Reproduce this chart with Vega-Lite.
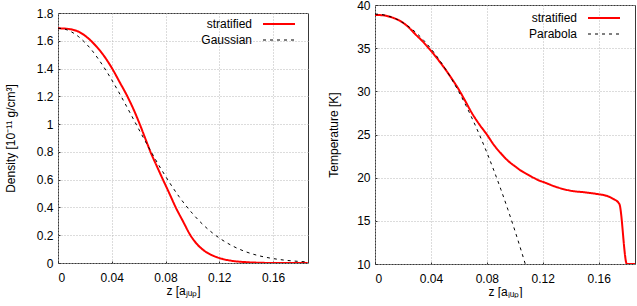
{
  "$schema": "https://vega.github.io/schema/vega-lite/v6.json",
  "padding": {"left": 3, "top": -2, "right": 0, "bottom": 0},
  "background": "white",
  "datasets": {
    "density": [
      {"z": 0, "v": 1.69, "series": "stratified"},
      {"z": 0.008, "v": 1.685, "series": "stratified"},
      {"z": 0.016, "v": 1.662, "series": "stratified"},
      {"z": 0.022, "v": 1.622, "series": "stratified"},
      {"z": 0.028, "v": 1.565, "series": "stratified"},
      {"z": 0.034, "v": 1.494, "series": "stratified"},
      {"z": 0.04, "v": 1.405, "series": "stratified"},
      {"z": 0.046, "v": 1.3, "series": "stratified"},
      {"z": 0.0516, "v": 1.2, "series": "stratified"},
      {"z": 0.0565, "v": 1.1, "series": "stratified"},
      {"z": 0.0608, "v": 1.0, "series": "stratified"},
      {"z": 0.0648, "v": 0.9, "series": "stratified"},
      {"z": 0.0688, "v": 0.8, "series": "stratified"},
      {"z": 0.0734, "v": 0.7, "series": "stratified"},
      {"z": 0.0781, "v": 0.6, "series": "stratified"},
      {"z": 0.0829, "v": 0.5, "series": "stratified"},
      {"z": 0.0876, "v": 0.4, "series": "stratified"},
      {"z": 0.093, "v": 0.3, "series": "stratified"},
      {"z": 0.0985, "v": 0.2, "series": "stratified"},
      {"z": 0.104, "v": 0.13, "series": "stratified"},
      {"z": 0.11, "v": 0.08, "series": "stratified"},
      {"z": 0.116, "v": 0.05, "series": "stratified"},
      {"z": 0.122, "v": 0.03, "series": "stratified"},
      {"z": 0.13, "v": 0.015, "series": "stratified"},
      {"z": 0.14, "v": 0.006, "series": "stratified"},
      {"z": 0.15, "v": 0.002, "series": "stratified"},
      {"z": 0.16, "v": 0.0, "series": "stratified"},
      {"z": 0.186, "v": 0.0, "series": "stratified"},
      {"z": 0, "v": 1.69, "series": "Gaussian"},
      {"z": 0.005, "v": 1.684, "series": "Gaussian"},
      {"z": 0.01, "v": 1.664, "series": "Gaussian"},
      {"z": 0.015, "v": 1.632, "series": "Gaussian"},
      {"z": 0.02, "v": 1.588, "series": "Gaussian"},
      {"z": 0.025, "v": 1.534, "series": "Gaussian"},
      {"z": 0.03, "v": 1.469, "series": "Gaussian"},
      {"z": 0.035, "v": 1.397, "series": "Gaussian"},
      {"z": 0.04, "v": 1.318, "series": "Gaussian"},
      {"z": 0.045, "v": 1.234, "series": "Gaussian"},
      {"z": 0.05, "v": 1.146, "series": "Gaussian"},
      {"z": 0.055, "v": 1.056, "series": "Gaussian"},
      {"z": 0.06, "v": 0.965, "series": "Gaussian"},
      {"z": 0.065, "v": 0.876, "series": "Gaussian"},
      {"z": 0.07, "v": 0.789, "series": "Gaussian"},
      {"z": 0.075, "v": 0.704, "series": "Gaussian"},
      {"z": 0.08, "v": 0.625, "series": "Gaussian"},
      {"z": 0.085, "v": 0.549, "series": "Gaussian"},
      {"z": 0.09, "v": 0.479, "series": "Gaussian"},
      {"z": 0.095, "v": 0.415, "series": "Gaussian"},
      {"z": 0.1, "v": 0.357, "series": "Gaussian"},
      {"z": 0.105, "v": 0.304, "series": "Gaussian"},
      {"z": 0.11, "v": 0.257, "series": "Gaussian"},
      {"z": 0.115, "v": 0.216, "series": "Gaussian"},
      {"z": 0.12, "v": 0.18, "series": "Gaussian"},
      {"z": 0.13, "v": 0.122, "series": "Gaussian"},
      {"z": 0.14, "v": 0.08, "series": "Gaussian"},
      {"z": 0.15, "v": 0.051, "series": "Gaussian"},
      {"z": 0.16, "v": 0.032, "series": "Gaussian"},
      {"z": 0.17, "v": 0.019, "series": "Gaussian"},
      {"z": 0.18, "v": 0.011, "series": "Gaussian"},
      {"z": 0.186, "v": 0.008, "series": "Gaussian"}
    ],
    "temperature": [
      {"z": 0, "t": 38.85, "series": "stratified"},
      {"z": 0.006, "t": 38.8, "series": "stratified"},
      {"z": 0.012, "t": 38.57, "series": "stratified"},
      {"z": 0.018, "t": 38.15, "series": "stratified"},
      {"z": 0.0235, "t": 37.5, "series": "stratified"},
      {"z": 0.0287, "t": 36.64, "series": "stratified"},
      {"z": 0.034, "t": 35.8, "series": "stratified"},
      {"z": 0.04, "t": 34.7, "series": "stratified"},
      {"z": 0.045, "t": 33.7, "series": "stratified"},
      {"z": 0.0501, "t": 32.6, "series": "stratified"},
      {"z": 0.055, "t": 31.45, "series": "stratified"},
      {"z": 0.0597, "t": 30.27, "series": "stratified"},
      {"z": 0.0645, "t": 28.9, "series": "stratified"},
      {"z": 0.069, "t": 27.57, "series": "stratified"},
      {"z": 0.0745, "t": 26.2, "series": "stratified"},
      {"z": 0.08, "t": 25.0, "series": "stratified"},
      {"z": 0.085, "t": 23.8, "series": "stratified"},
      {"z": 0.0907, "t": 22.7, "series": "stratified"},
      {"z": 0.0955, "t": 21.9, "series": "stratified"},
      {"z": 0.1003, "t": 21.3, "series": "stratified"},
      {"z": 0.105, "t": 20.75, "series": "stratified"},
      {"z": 0.11, "t": 20.3, "series": "stratified"},
      {"z": 0.117, "t": 19.7, "series": "stratified"},
      {"z": 0.122, "t": 19.4, "series": "stratified"},
      {"z": 0.129, "t": 18.96, "series": "stratified"},
      {"z": 0.1406, "t": 18.47, "series": "stratified"},
      {"z": 0.15, "t": 18.3, "series": "stratified"},
      {"z": 0.16, "t": 18.08, "series": "stratified"},
      {"z": 0.1657, "t": 17.9, "series": "stratified"},
      {"z": 0.1698, "t": 17.6, "series": "stratified"},
      {"z": 0.1748, "t": 16.96, "series": "stratified"},
      {"z": 0.1802, "t": 10.0, "series": "stratified"},
      {"z": 0.186, "t": 10.0, "series": "stratified"},
      {"z": 0, "t": 38.95, "series": "Parabola"},
      {"z": 0.005, "t": 38.89, "series": "Parabola"},
      {"z": 0.01, "t": 38.7, "series": "Parabola"},
      {"z": 0.015, "t": 38.39, "series": "Parabola"},
      {"z": 0.02, "t": 37.95, "series": "Parabola"},
      {"z": 0.025, "t": 37.38, "series": "Parabola"},
      {"z": 0.03, "t": 36.7, "series": "Parabola"},
      {"z": 0.035, "t": 35.88, "series": "Parabola"},
      {"z": 0.04, "t": 34.94, "series": "Parabola"},
      {"z": 0.045, "t": 33.88, "series": "Parabola"},
      {"z": 0.05, "t": 32.69, "series": "Parabola"},
      {"z": 0.055, "t": 31.37, "series": "Parabola"},
      {"z": 0.06, "t": 29.93, "series": "Parabola"},
      {"z": 0.065, "t": 28.37, "series": "Parabola"},
      {"z": 0.07, "t": 26.68, "series": "Parabola"},
      {"z": 0.075, "t": 24.86, "series": "Parabola"},
      {"z": 0.08, "t": 22.92, "series": "Parabola"},
      {"z": 0.085, "t": 20.85, "series": "Parabola"},
      {"z": 0.09, "t": 18.66, "series": "Parabola"},
      {"z": 0.095, "t": 16.34, "series": "Parabola"},
      {"z": 0.1, "t": 13.9, "series": "Parabola"},
      {"z": 0.105, "t": 11.33, "series": "Parabola"},
      {"z": 0.1075, "t": 10.0, "series": "Parabola"}
    ]
  },
  "hconcat": [
    {
      "spacing": 0,
      "vconcat": [
        {
          "width": 250,
          "height": 1,
          "view": {"stroke": null},
          "data": {"values": [{}]},
          "mark": {"type": "point", "size": 0, "opacity": 0, "strokeWidth": 0}
        },
        {
          "width": 250,
          "height": 250,
          "data": {"name": "density"},
          "mark": {"type": "line", "interpolate": "monotone", "clip": true},
          "encoding": {
            "x": {"field": "z", "type": "quantitative",
              "scale": {"domain": [0, 0.186], "nice": false, "zero": false},
              "axis": {"values": [0, 0.04, 0.08, 0.12, 0.16], "format": "~g", "title": "z [aⱼᵤₚ]"}},
            "y": {"field": "v", "type": "quantitative",
              "scale": {"domain": [0, 1.8], "nice": false},
              "axis": {"values": [0, 0.2, 0.4, 0.6, 0.8, 1, 1.2, 1.4, 1.6, 1.8], "format": "~g", "title": "Density [10⁻¹¹ g/cm³]", "titlePadding": 19}},
            "color": {"field": "series", "type": "nominal",
              "scale": {"domain": ["stratified", "Gaussian"], "range": ["#ff0000", "#000000"]},
              "legend": {"title": null, "offset": 9}},
            "strokeDash": {"field": "series", "type": "nominal",
              "scale": {"domain": ["stratified", "Gaussian"], "range": [[1, 0], [3, 4]]},
              "legend": {"title": null, "offset": 9}},
            "strokeWidth": {"field": "series", "type": "nominal",
              "scale": {"domain": ["stratified", "Gaussian"], "range": [2, 1]},
              "legend": {"title": null, "offset": 9}}
          }
        }
      ],
      "resolve": {"scale": {"color": "independent", "strokeDash": "independent", "strokeWidth": "independent"}, "legend": {"color": "independent", "strokeDash": "independent", "strokeWidth": "independent"}}
    },
    {
      "width": 260,
      "height": 259,
      "data": {"name": "temperature"},
      "mark": {"type": "line", "interpolate": "monotone", "clip": true},
      "encoding": {
        "x": {"field": "z", "type": "quantitative",
          "scale": {"domain": [0, 0.186], "nice": false, "zero": false},
          "axis": {"values": [0, 0.04, 0.08, 0.12, 0.16], "format": "~g", "title": "z [aⱼᵤₚ]"}},
        "y": {"field": "t", "type": "quantitative",
          "scale": {"domain": [10, 40], "nice": false, "zero": false},
          "axis": {"values": [10, 15, 20, 25, 30, 35, 40], "title": "Temperature [K]", "titlePadding": 16}},
        "color": {"field": "series", "type": "nominal",
          "scale": {"domain": ["stratified", "Parabola"], "range": ["#ff0000", "#000000"]},
          "legend": {"title": null, "offset": 11}},
        "strokeDash": {"field": "series", "type": "nominal",
          "scale": {"domain": ["stratified", "Parabola"], "range": [[1, 0], [3, 4]]},
          "legend": {"title": null, "offset": 11}},
        "strokeWidth": {"field": "series", "type": "nominal",
          "scale": {"domain": ["stratified", "Parabola"], "range": [2, 1]},
          "legend": {"title": null, "offset": 11}}
      }
    }
  ],
  "resolve": {"scale": {"color": "independent", "strokeDash": "independent", "strokeWidth": "independent"}, "legend": {"color": "independent", "strokeDash": "independent", "strokeWidth": "independent"}},
  "spacing": 18,
  "config": {
    "font": "Liberation Sans",
    "view": {"stroke": "#383838", "strokeWidth": 1},
    "axis": {
      "domain": false,
      "grid": true,
      "gridColor": "#b8b8b8",
      "gridDash": [1, 2],
      "gridWidth": 1,
      "tickColor": "#303030",
      "tickSize": -2,
      "labelFont": "Liberation Sans",
      "labelFontSize": 12,
      "labelColor": "#000000",
      "titleFont": "Liberation Sans",
      "titleFontSize": 12,
      "titleFontWeight": "normal",
      "titleColor": "#000000"
    },
    "axisX": {"labelPadding": 11, "titlePadding": 2},
    "axisY": {"labelPadding": 7},
    "legend": {
      "orient": "top-right",
      "padding": 0,
      "symbolType": "M-4,-1H4",
      "symbolSize": 64,
      "symbolStrokeColor": "#000000",
      "labelAlign": "right",
      "labelBaseline": "alphabetic",
      "labelOffset": -33,
      "labelFont": "Liberation Sans",
      "labelFontSize": 12,
      "labelColor": "#000000",
      "rowPadding": 4
    }
  }
}
